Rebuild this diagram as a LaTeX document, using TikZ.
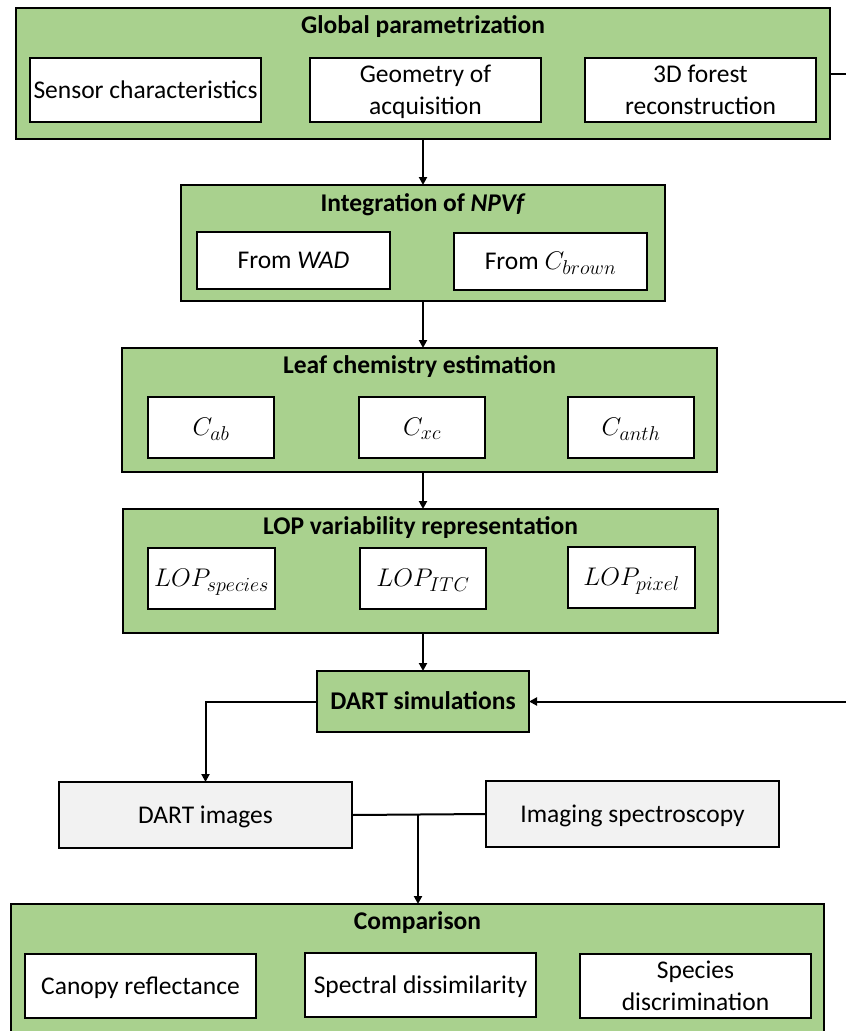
\RequirePackage{fix-cm}
\documentclass[tikz,border=0pt]{standalone}
\usepackage{fontspec}
\setmainfont{Carlito}
\usetikzlibrary{arrows.meta}
\DeclareMathSizes{25.5}{25.5}{20}{15}
\definecolor{grn}{HTML}{A9D18E}
\definecolor{lgr}{HTML}{F2F2F2}
\tikzset{
  grp/.style={draw=black, fill=grn, line width=2pt, inner sep=0pt, outer sep=0pt},
  itm/.style={draw=black, fill=white, line width=2pt, inner sep=0pt, outer sep=0pt, align=center,
    text height=16.4pt, text depth=0pt, font=\fontsize{25.5}{32}\selectfont},
  itmtwo/.style={itm, text height=48.4pt},
  ttl/.style={inner sep=0pt, anchor=base, font=\fontsize{25.5}{32}\selectfont\bfseries},
  imgbox/.style={itm, fill=lgr},
  dartbox/.style={grp, text height=16.4pt, text depth=0pt, font=\fontsize{25.5}{32}\selectfont\bfseries},
  conn/.style={line width=2pt, draw=black},
  arr/.style={conn, -{Triangle[length=8pt,width=8pt]}},
}
\begin{document}
\begin{tikzpicture}[x=1pt,y=-1pt]
\useasboundingbox (0,0) rectangle (846,1031);
\clip (0,0) rectangle (846,1031);
\fill[white] (0,0) rectangle (846,1031);

% Global parametrization
\node[grp, minimum width=814pt, minimum height=131pt] (gp) at (423,73.5) {};
\node[ttl] (gpt) at (423,33.5) {Global parametrization};
\node[itm, minimum width=231pt, minimum height=64pt] (sens) at (145.5,90) {Sensor characteristics};
\node[itmtwo, minimum width=231pt, minimum height=64pt] (geom) at (425.5,90) {Geometry of\\acquisition};
\node[itmtwo, minimum width=231pt, minimum height=64pt] (forest) at (700.5,90) {3D forest\\reconstruction};

% Integration of NPVf
\node[grp, minimum width=484pt, minimum height=116pt] (npv) at (423,243) {};
\node[ttl] (npvt) at (423,211) {Integration of \textit{NPVf}};
\node[itm, minimum width=193pt, minimum height=57pt] (wad) at (293.5,260.5) {From \textit{WAD}};
\node[itm, minimum width=193pt, minimum height=57pt] (cbr) at (550.5,261.5) {From $C_{brown}$};

% Leaf chemistry estimation
\node[grp, minimum width=595pt, minimum height=124pt] (leaf) at (419.5,410) {};
\node[ttl] (leaft) at (419.5,373) {Leaf chemistry estimation};
\node[itm, minimum width=126pt, minimum height=61pt] (cab) at (211,427.5) {$C_{ab}$};
\node[itm, minimum width=126pt, minimum height=61pt] (cxc) at (422,427.5) {$C_{xc}$};
\node[itm, minimum width=126pt, minimum height=61pt] (canth) at (631,427) {$C_{anth}$};

% LOP variability representation
\node[grp, minimum width=595pt, minimum height=124pt] (lop) at (420.5,571) {};
\node[ttl] (lopt) at (420.5,534) {LOP variability representation};
\node[itm, minimum width=127pt, minimum height=61pt] (lsp) at (211.5,578.5) {$LOP_{species}$};
\node[itm, minimum width=126pt, minimum height=61pt] (litc) at (423,578.5) {$LOP_{ITC}$};
\node[itm, minimum width=127pt, minimum height=61pt] (lpix) at (631.5,577.5) {$LOP_{pixel}$};

% DART simulations
\node[dartbox, minimum width=212pt, minimum height=61pt] (dart) at (423,701.5) {DART simulations};

% DART images / Imaging spectroscopy
\node[imgbox, minimum width=293pt, minimum height=66pt] (dimg) at (205.5,815) {DART images};
\node[imgbox, minimum width=293pt, minimum height=66pt] (imsp) at (632.5,814) {Imaging spectroscopy};

% Comparison
\node[grp, minimum width=813pt, minimum height=141pt] (comp) at (417.5,974.5) {};
\node[ttl] (compt) at (417.5,929) {Comparison};
\node[itm, minimum width=231pt, minimum height=64pt] (canopy) at (140.5,986) {Canopy reflectance};
\node[itm, minimum width=231pt, minimum height=64pt] (spec) at (420.5,985) {Spectral dissimilarity};
\node[itmtwo, minimum width=231pt, minimum height=64pt] (discr) at (695.5,986) {Species\\discrimination};

% connectors
\draw[arr] (gp.south) -- (gp.south |- npv.north);
\draw[arr] (npv.south) -- (npv.south |- leaf.north);
\draw[arr] (npv.south |- leaf.south) -- (npv.south |- lop.north);
\draw[arr] (lop.south -| dart.north) -- (dart.north);
\coordinate (re) at (862,0);
\draw[arr] (gp.east) -- (gp.east -| re) -- (re |- dart.east) -- (dart.east);
\draw[arr] (dart.west) -| (dimg.north);
\draw[conn] (dimg.east) -- (imsp.west);
\coordinate (jn) at (418,815);
\draw[arr] (jn) -- (jn |- comp.north);
\end{tikzpicture}
\end{document}
